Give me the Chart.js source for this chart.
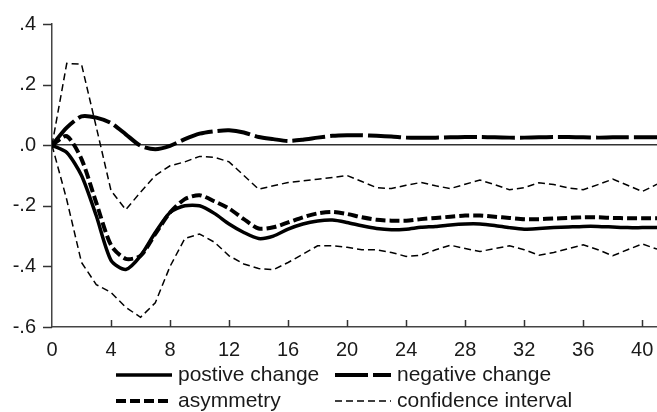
<!DOCTYPE html>
<html>
<head>
<meta charset="utf-8">
<script src="https://cdn.jsdelivr.net/npm/chart.js@4/dist/chart.umd.min.js"></script>
<style>
  html, body { margin: 0; padding: 0; background: #fff; overflow: hidden; }
  canvas { display: block; }
</style>
</head>
<body>
<canvas id="irf" width="657" height="412"></canvas>
<script>
// horizon (periods after the shock)
const steps = [0, 1, 2, 3, 4, 5, 6, 7, 8, 9, 10, 11, 12, 13, 14, 15, 16, 17, 18, 19, 20,
  21, 22, 23, 24, 25, 26, 27, 28, 29, 30, 31, 32, 33, 34, 35, 36, 37, 38, 39, 40, 41];

const positiveChange = [0, -0.024, -0.10, -0.233, -0.38, -0.41, -0.365, -0.288, -0.222, -0.20, -0.20,
  -0.225, -0.26, -0.288, -0.308, -0.30, -0.277, -0.26, -0.25, -0.247, -0.255,
  -0.266, -0.275, -0.279, -0.277, -0.271, -0.268, -0.263, -0.26, -0.26, -0.265,
  -0.272, -0.277, -0.275, -0.272, -0.27, -0.268, -0.268, -0.27, -0.272, -0.272, -0.272];

const negativeChange = [0, 0.058, 0.095, 0.091, 0.073, 0.036, -0.002, -0.013, -0.002, 0.02, 0.038,
  0.046, 0.049, 0.042, 0.027, 0.02, 0.014, 0.018, 0.025, 0.031, 0.033,
  0.033, 0.031, 0.029, 0.025, 0.025, 0.025, 0.026, 0.027, 0.027, 0.026,
  0.025, 0.025, 0.026, 0.027, 0.027, 0.026, 0.025, 0.026, 0.026, 0.026, 0.026];

const asymmetry = [0, 0.03, -0.046, -0.19, -0.33, -0.375, -0.365, -0.293, -0.222, -0.178, -0.165,
  -0.185, -0.209, -0.244, -0.275, -0.271, -0.255, -0.238, -0.225, -0.22, -0.227,
  -0.238, -0.246, -0.249, -0.249, -0.244, -0.24, -0.236, -0.232, -0.232, -0.236,
  -0.24, -0.244, -0.244, -0.242, -0.24, -0.238, -0.238, -0.24, -0.241, -0.241, -0.241];

const ciUpper = [0, 0.27, 0.267, 0.06, -0.15, -0.213, -0.155, -0.10, -0.068, -0.055, -0.037,
  -0.04, -0.055, -0.10, -0.145, -0.134, -0.123, -0.118, -0.112, -0.107, -0.10,
  -0.12, -0.14, -0.143, -0.132, -0.123, -0.134, -0.143, -0.129, -0.115, -0.13,
  -0.147, -0.14, -0.124, -0.13, -0.141, -0.147, -0.13, -0.112, -0.132, -0.153, -0.129];

const ciLower = [0, -0.18, -0.387, -0.46, -0.486, -0.535, -0.568, -0.52, -0.40, -0.308, -0.293,
  -0.32, -0.365, -0.392, -0.407, -0.411, -0.387, -0.36, -0.332, -0.332, -0.337,
  -0.345, -0.345, -0.354, -0.367, -0.363, -0.345, -0.33, -0.341, -0.351, -0.341,
  -0.332, -0.345, -0.363, -0.354, -0.341, -0.329, -0.345, -0.365, -0.345, -0.326, -0.343];

const xTicks = [0, 4, 8, 12, 16, 20, 24, 28, 32, 36, 40];
const yTicks = [0.4, 0.2, 0, -0.2, -0.4, -0.6];
const yTickLabels = ['.4', '.2', '.0', '-.2', '-.4', '-.6'];

const seriesNames = ['postive change', 'negative change', 'asymmetry', 'confidence interval'];

function pts(values) {
  return steps.map((s, i) => ({ x: s, y: values[i] }));
}

const FONT = '"Liberation Sans", Arial, sans-serif';

// legend drawn under the axis, two rows of two items
const legendBelow = {
  id: 'legendBelow',
  afterDraw(chart) {
    const ctx = chart.ctx;
    const slots = [
      { x: 116, y: 375 }, { x: 335, y: 375 },
      { x: 116, y: 401 }, { x: 335, y: 401 }
    ];
    chart.data.datasets.forEach((ds, i) => {
      if (ds.hideInLegend) return;
      const s = slots[i];
      ctx.save();
      ctx.strokeStyle = ds.borderColor;
      ctx.lineWidth = ds.borderWidth;
      ctx.setLineDash(ds.borderDash || []);
      ctx.beginPath();
      ctx.moveTo(s.x, s.y);
      ctx.lineTo(s.x + 56, s.y);
      ctx.stroke();
      ctx.setLineDash([]);
      ctx.fillStyle = '#1a1a1a';
      ctx.font = '21px ' + FONT;
      ctx.textBaseline = 'middle';
      ctx.fillText(ds.label, s.x + 62, s.y);
      ctx.restore();
    });
  }
};

// axis tick marks: x ticks point up into the plot, y ticks point left
const axisTicks = {
  id: 'axisTicks',
  afterDraw(chart) {
    const { x, y } = chart.scales;
    const ctx = chart.ctx;
    const { left, bottom } = chart.chartArea;
    ctx.save();
    ctx.strokeStyle = '#333';
    ctx.lineWidth = 1.5;
    x.ticks.forEach(t => {
      if (t.value === 0) return;
      const px = Math.round(x.getPixelForValue(t.value)) + 0.5;
      ctx.beginPath();
      ctx.moveTo(px, bottom);
      ctx.lineTo(px, bottom - 7);
      ctx.stroke();
    });
    y.ticks.forEach(t => {
      const py = Math.round(y.getPixelForValue(t.value)) + 0.5;
      ctx.beginPath();
      ctx.moveTo(left, py);
      ctx.lineTo(left - 9, py);
      ctx.stroke();
    });
    ctx.restore();
  }
};

new Chart(document.getElementById('irf'), {
  type: 'line',
  data: {
    datasets: [
      { label: seriesNames[0], data: pts(positiveChange), borderColor: '#000', borderWidth: 3.5, tension: 0.25 },
      { label: seriesNames[1], data: pts(negativeChange), borderColor: '#000', borderWidth: 4, borderDash: [33, 5], tension: 0.25 },
      { label: seriesNames[2], data: pts(asymmetry), borderColor: '#000', borderWidth: 4, borderDash: [10, 4], tension: 0.25 },
      { label: seriesNames[3], data: pts(ciUpper), borderColor: '#000', borderWidth: 1.5, borderDash: [7, 4] },
      { label: seriesNames[3], data: pts(ciLower), borderColor: '#000', borderWidth: 1.5, borderDash: [7, 4], hideInLegend: true }
    ]
  },
  options: {
    responsive: false,
    animation: false,
    devicePixelRatio: 1,
    layout: { padding: { top: 24, right: 0, bottom: 0, left: 0 } },
    elements: { point: { radius: 0 }, line: { tension: 0, fill: false } },
    plugins: { legend: { display: false }, tooltip: { enabled: false } },
    scales: {
      x: {
        type: 'linear',
        min: 0,
        max: 41,
        afterBuildTicks: s => { s.ticks = xTicks.map(v => ({ value: v })); },
        afterFit: s => { s.height = 85; s.paddingLeft = 0; s.paddingRight = 0; },
        ticks: { font: { family: FONT, size: 20 }, color: '#1a1a1a', padding: 3, maxRotation: 0, autoSkip: false },
        grid: { display: false },
        border: { color: '#444', width: 1.5 }
      },
      y: {
        min: -0.6,
        max: 0.4,
        afterBuildTicks: s => { s.ticks = yTicks.map(v => ({ value: v })); },
        afterFit: s => { s.width = 52; s.paddingTop = 0; s.paddingBottom = 0; },
        ticks: {
          font: { family: FONT, size: 20 },
          color: '#1a1a1a',
          padding: 16,
          callback: v => yTickLabels[yTicks.findIndex(t => Math.abs(t - v) < 1e-9)]
        },
        grid: {
          color: c => (c.tick && Math.abs(c.tick.value) < 1e-9) ? '#333' : 'rgba(0,0,0,0)',
          lineWidth: 1.5,
          drawTicks: false
        },
        border: { color: '#444', width: 1.5 }
      }
    }
  },
  plugins: [legendBelow, axisTicks]
});
</script>
</body>
</html>
